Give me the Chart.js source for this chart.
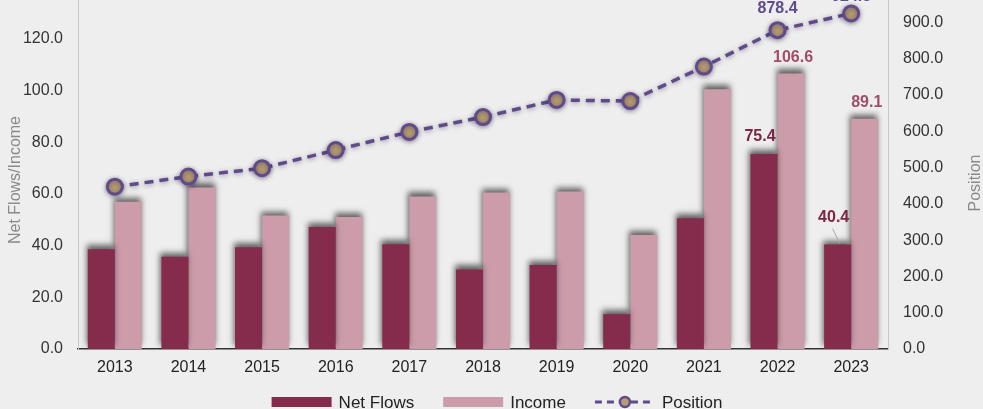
<!DOCTYPE html>
<html><head><meta charset="utf-8">
<script src="https://cdn.jsdelivr.net/npm/chart.js@4.4.1/dist/chart.umd.min.js"></script>
<style>html,body{margin:0;padding:0;background:#eeeeee;overflow:hidden}</style>
</head><body>
<canvas id="c" width="983" height="409"></canvas>
<script>
const years = ['2013','2014','2015','2016','2017','2018','2019','2020','2021','2022','2023'];
const netFlows = [38.6, 35.7, 39.4, 47.2, 40.5, 30.8, 32.5, 13.5, 50.6, 75.4, 40.4];
const income   = [57.0, 62.5, 51.6, 51.1, 59.0, 60.5, 60.9, 44.1, 100.5, 106.6, 89.1];
const position = [447, 475, 498, 548, 598, 639, 686, 683, 778, 878.4, 924.5];
const leftTicks  = [0, 20, 40, 60, 80, 100, 120];
const rightTicks = [0, 100, 200, 300, 400, 500, 600, 700, 800, 900];
const leftTitle = 'Net Flows/Income';
const rightTitle = 'Position';
const seriesNames = ['Net Flows', 'Income', 'Position'];
const labelledYears = ['2022', '2023'];

const FONT = '"Liberation Sans", Arial, sans-serif';
const C_NET = '#852b4b', C_INC = '#cc9cab', C_POS = '#5e4b8b', C_MARK = '#b59c72';

const fx = v => Number(v).toFixed(1);

const bgPlugin = {
  id: 'bg',
  beforeDraw(chart) {
    const ctx = chart.ctx;
    ctx.save();
    ctx.fillStyle = '#eeeeee';
    ctx.fillRect(0, 0, chart.width, chart.height);
    ctx.restore();
  }
};

const shadowPlugin = {
  id: 'shadow',
  beforeDatasetDraw(chart, args) {
    const ctx = chart.ctx;
    ctx.save();
    if (args.meta.type === 'bar') {
      ctx.shadowColor = 'rgba(0,0,0,0.6)';
      ctx.shadowBlur = 6;
      ctx.shadowOffsetX = -1;
      ctx.shadowOffsetY = -4;
    } else {
      ctx.shadowColor = 'rgba(40,20,60,0.45)';
      ctx.shadowBlur = 5;
      ctx.shadowOffsetY = 1;
    }
  },
  afterDatasetDraw(chart) { chart.ctx.restore(); }
};

const labelPlugin = {
  id: 'labels',
  afterDatasetsDraw(chart) {
    const ctx = chart.ctx;
    ctx.save();
    ctx.font = 'bold 16px ' + FONT;
    ctx.textAlign = 'center';
    ctx.textBaseline = 'middle';
    const specs = [
      {ds: 0, color: '#7e2545', off: {'2022': [-4, -17], '2023': [-4, -27]}},
      {ds: 1, color: '#a24d67', off: {'2022': [2, -16], '2023': [2, -16]}},
      {ds: 2, color: '#5e4b8b', off: {'2022': [0, -22], '2023': [0, -17]}}
    ];
    specs.forEach(s => {
      const meta = chart.getDatasetMeta(s.ds);
      const data = chart.data.datasets[s.ds].data;
      labelledYears.forEach(y => {
        const i = years.indexOf(y);
        const el = meta.data[i];
        const [dx, dy] = s.off[y];
        const x = el.x + dx, yy = el.y + dy;
        if (s.ds === 0 && y === '2023') {
          ctx.strokeStyle = '#a8a8a8';
          ctx.lineWidth = 1;
          ctx.beginPath();
          ctx.moveTo(x - 1, yy + 11);
          ctx.lineTo(el.x + 2, el.y - 1);
          ctx.stroke();
        }
        ctx.fillStyle = s.color;
        ctx.fillText(fx(data[i]), x, yy);
      });
    });
    ctx.restore();
  }
};

const decoPlugin = {
  id: 'deco',
  afterDraw(chart) {
    const ctx = chart.ctx;
    ctx.save();
    ctx.font = '16px ' + FONT;
    ctx.fillStyle = '#8a8a8a';
    ctx.textAlign = 'center';
    ctx.textBaseline = 'middle';
    ctx.save(); ctx.translate(16, 180); ctx.rotate(-Math.PI / 2); ctx.fillText(leftTitle, 0, 0); ctx.restore();
    ctx.save(); ctx.translate(976, 183); ctx.rotate(-Math.PI / 2); ctx.fillText(rightTitle, 0, 0); ctx.restore();
    // legend
    ctx.font = '17px ' + FONT;
    const boxW = 60, gap = 7, sep = 29;
    const widths = seriesNames.map(n => ctx.measureText(n).width);
    const total = 3 * (boxW + gap) + widths.reduce((a, b) => a + b, 0) + 2 * sep;
    let x = 497 - total / 2;
    const cy = 402;
    seriesNames.forEach((name, k) => {
      if (k < 2) {
        ctx.fillStyle = k === 0 ? C_NET : C_INC;
        ctx.fillRect(x, cy - 5, boxW, 10);
      } else {
        ctx.strokeStyle = C_POS;
        ctx.lineWidth = 3;
        ctx.setLineDash([7, 5]);
        ctx.beginPath(); ctx.moveTo(x, cy); ctx.lineTo(x + boxW, cy); ctx.stroke();
        ctx.setLineDash([]);
        ctx.beginPath(); ctx.arc(x + boxW / 2, cy, 5, 0, Math.PI * 2);
        ctx.fillStyle = C_MARK; ctx.fill();
        ctx.lineWidth = 2.5; ctx.stroke();
      }
      ctx.fillStyle = '#222';
      ctx.textAlign = 'left';
      ctx.fillText(name, x + boxW + gap, cy + 1);
      x += boxW + gap + widths[k] + sep;
    });
    ctx.restore();
  }
};

new Chart(document.getElementById('c'), {
  type: 'bar',
  data: {
    labels: years,
    datasets: [
      {label: seriesNames[0], data: netFlows, backgroundColor: C_NET, yAxisID: 'yL', order: 1,
       categoryPercentage: 0.735, barPercentage: 1.0},
      {label: seriesNames[1], data: income, backgroundColor: C_INC, yAxisID: 'yL', order: 1,
       categoryPercentage: 0.735, barPercentage: 1.0},
      {label: seriesNames[2], type: 'line', data: position, yAxisID: 'yR', order: 0,
       borderColor: C_POS, borderWidth: 3.5, borderDash: [9, 6], fill: false, tension: 0, clip: false,
       pointRadius: 7.5, pointBackgroundColor: C_MARK, pointBorderColor: C_POS, pointBorderWidth: 3}
    ]
  },
  options: {
    responsive: false,
    animation: false,
    devicePixelRatio: 1,
    layout: {autoPadding: false, padding: 0},
    plugins: {legend: {display: false}, tooltip: {enabled: false}},
    scales: {
      x: {
        grid: {display: false, drawTicks: false},
        border: {display: true, color: '#333', width: 1.5},
        ticks: {color: '#222', font: {size: 16, family: FONT}, padding: 9},
        afterFit(s) { s.height = 60; }
      },
      yL: {
        position: 'left', min: 0, max: 135.0,
        grid: {display: false, drawTicks: false},
        border: {display: true, color: '#c8c8c8', width: 1},
        ticks: {color: '#333', font: {size: 16, family: FONT}, padding: 15, callback: v => fx(v)},
        afterBuildTicks(s) { s.ticks = leftTicks.map(v => ({value: v})); },
        afterFit(s) { s.width = 78; s.paddingTop = 0; s.paddingBottom = 0; }
      },
      yR: {
        position: 'right', min: 0, max: 961.4,
        grid: {display: false, drawTicks: false},
        border: {display: true, color: '#c8c8c8', width: 1},
        ticks: {color: '#333', font: {size: 16, family: FONT}, padding: 15, callback: v => fx(v)},
        afterBuildTicks(s) { s.ticks = rightTicks.map(v => ({value: v})); },
        afterFit(s) { s.width = 95; s.paddingTop = 0; s.paddingBottom = 0; }
      }
    }
  },
  plugins: [bgPlugin, shadowPlugin, labelPlugin, decoPlugin]
});
</script>
</body></html>
